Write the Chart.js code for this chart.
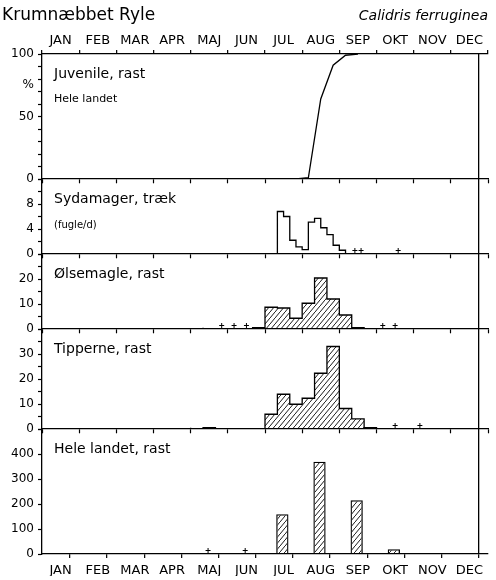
<!DOCTYPE html>
<html lang="da">
<head>
  <meta charset="UTF-8" />
  <title>Krumnæbbet Ryle</title>
  <script src="https://cdn.jsdelivr.net/npm/chart.js"></script>
  <style>
    html, body { margin: 0; padding: 0; background: #fff; }
    canvas { display: block; }
  </style>
</head>
<body>
  <canvas id="chart" width="496" height="580"></canvas>

  <script>
    const months = ['JAN', 'FEB', 'MAR', 'APR', 'MAJ', 'JUN', 'JUL', 'AUG', 'SEP', 'OKT', 'NOV', 'DEC'];

    // Juvenile, rast (% juv., hele landet) - dekade nr. 0 = 1.-10. jan
    const juvDekade = [20, 21, 22, 23, 24, 25];
    const juvPct = [0, 1, 64, 91, 99, 100];

    // Sydamager, træk (fugle/d) pr. pentade, første = 11.-15. jul (nr. 38)
    const sydStart = 38;
    const sydFugle = [1.4, 6.8, 6.0, 2.2, 1.15, 0.7, 5.1, 5.7, 4.2, 3.1, 1.4, 0.6];
    const sydPlus = [50, 51, 57];

    // Ølsemagle, rast pr. dekade, første = 11.-20. maj (nr. 13)
    const olsStart = 13;
    const olsRast = [0.5, 0, 0, 0, 0, 0.5, 8.7, 8.4, 4.3, 10.3, 20.4, 12.0, 5.6, 0.5];
    const olsPlus = [14, 15, 16, 27, 28];

    // Tipperne, rast pr. dekade, første = 1.-10. maj (nr. 12)
    const tipStart = 12;
    const tipRast = [0.5, 0, 0.5, 0, 0, 0, 0, 5.9, 13.9, 9.9, 12.3, 22.3, 33, 8.2, 4.05, 0.5];
    const tipPlus = [28, 30];

    // Hele landet, rast (månedstællinger midt i måneden)
    const hlMaaned = [6, 7, 8, 9];
    const hlRast = [159, 369, 215, 19];
    const hlPlus = [4, 5];
    const hlDag = 14;

    // tal på y-akserne
    const juvTicks = [0, 50, 100];
    const sydTicks = [0, 4, 8];
    const olsTicks = [0, 10, 20];
    const tipTicks = [0, 10, 20, 30];
    const hlTicks = [0, 100, 200, 300, 400];

    const panelTitles = ['Juvenile, rast', 'Sydamager, træk', 'Ølsemagle, rast', 'Tipperne, rast', 'Hele landet, rast'];

    Chart.defaults.font.family = '"DejaVu Sans", sans-serif';
    Chart.defaults.font.size = 12;
    Chart.defaults.color = '#000';

    const canvas = document.getElementById('chart');
    const ctx = canvas.getContext('2d');

    // skravering
    const tile = document.createElement('canvas');
    tile.width = 5; tile.height = 6;
    const tg = tile.getContext('2d');
    tg.strokeStyle = '#000';
    tg.lineWidth = 0.9;
    tg.beginPath();
    tg.moveTo(-1, 6 + 6 / 5);
    tg.lineTo(6, -6 / 5);
    tg.stroke();
    const hatch = ctx.createPattern(tile, 'repeat');

    // "+" lidt over nullinjen
    const plus = document.createElement('canvas');
    plus.width = 7; plus.height = 14;
    const pg = plus.getContext('2d');
    pg.fillStyle = '#000';
    pg.fillRect(1, 3, 5, 1);
    pg.fillRect(3, 1, 1, 5);

    function stepPoints(start, vals, per) {
      const pts = [{ x: start / per, y: 0 }];
      vals.forEach((v, i) => pts.push({ x: (start + i) / per, y: v }));
      pts.push({ x: (start + vals.length) / per, y: 0 });
      return pts;
    }
    const plusPoints = (idx, per, off) => idx.map(i => ({ x: (i + off) / per, y: 0 }));

    function plusSet(data, yId) {
      return { type: 'line', yAxisID: yId, data, showLine: false, pointStyle: plus, pointRadius: 3 };
    }

    const clear = 'rgba(0,0,0,0)';
    const tv = c => (c && c.tick ? c.tick.value : NaN);

    function yAxis(max, step, minor, labels, weight, stackWeight, extra) {
      return {
        type: 'linear', position: 'left', stack: 'panel', stackWeight, weight,
        min: 0, max, offset: false,
        afterFit: s => { s.width = 42; },
        border: { color: '#000', width: 1.3 },
        grid: {
          drawOnChartArea: false, tickLength: 4, tickWidth: 1.2,
          tickColor: c => tv(c) % minor === 0 ? '#000' : clear
        },
        ticks: {
          stepSize: step, autoSkip: false, padding: 4,
          callback: v => labels.includes(v) ? String(v) : ((extra && extra[v]) || '')
        }
      };
    }

    function monthAxis(position, pad, h) {
      return {
        type: 'linear', position, min: 0, max: 12, offset: false,
        afterFit: s => { s.height = h; },
        border: { color: '#000', width: 1.3 },
        grid: {
          drawOnChartArea: position === 'bottom', tickLength: 4, tickWidth: 1.2,
          color: c => tv(c) === 12 ? '#000' : clear,
          lineWidth: 1.3,
          tickColor: c => Number.isInteger(tv(c)) ? '#000' : clear
        },
        ticks: {
          stepSize: 0.5, autoSkip: false, maxRotation: 0, padding: pad, font: { size: 13 },
          callback: v => Number.isInteger(v) ? '' : months[Math.floor(v)]
        }
      };
    }

    function sepAxis(yId) {
      return {
        type: 'linear', axis: 'x', position: { [yId]: 0 }, min: 0, max: 12,
        border: { color: '#000', width: 1.3 },
        grid: { drawOnChartArea: false, tickLength: 4, tickWidth: 1.2, tickColor: '#000' },
        ticks: { display: false, stepSize: 1 }
      };
    }

    const panelText = {
      id: 'panelText',
      afterDraw(chart) {
        const c = chart.ctx;
        const area = chart.chartArea;
        c.save();
        c.fillStyle = '#000';
        c.textBaseline = 'alphabetic';
        c.textAlign = 'left';
        c.font = '17px "DejaVu Sans"';
        c.fillText('Krumnæbbet Ryle', 2, 20);
        c.textAlign = 'right';
        c.font = 'italic 14px "DejaVu Sans"';
        c.fillText('Calidris ferruginea', area.right, 20);
        c.textAlign = 'left';
        ['y1', 'y2', 'y3', 'y4', 'y5'].forEach((id, i) => {
          c.font = '14px "DejaVu Sans"';
          c.fillText(panelTitles[i], area.left + 12, chart.scales[id].top + 24);
        });
        c.font = '11px "DejaVu Sans"';
        c.fillText('Hele landet', area.left + 12, chart.scales.y1.top + 48);
        c.font = '10px "DejaVu Sans"';
        c.fillText('(fugle/d)', area.left + 12, chart.scales.y2.top + 49);
        c.restore();
      }
    };

    new Chart(canvas, {
      type: 'line',
      data: {
        datasets: [
          {
            yAxisID: 'y1',
            data: juvDekade.map((d, i) => ({ x: (d + 0.5) / 3, y: juvPct[i] })),
            borderColor: '#000', borderWidth: 1.3, pointRadius: 0, fill: false
          },
          {
            yAxisID: 'y2',
            data: stepPoints(sydStart, sydFugle, 6),
            stepped: 'after', borderColor: '#000', borderWidth: 1.3, pointRadius: 0, fill: false
          },
          plusSet(plusPoints(sydPlus, 6, 0.5), 'y2'),
          {
            yAxisID: 'y3',
            data: stepPoints(olsStart, olsRast, 3),
            stepped: 'after', borderColor: '#000', borderWidth: 1.3, pointRadius: 0,
            fill: 'origin', backgroundColor: hatch
          },
          plusSet(plusPoints(olsPlus, 3, 0.5), 'y3'),
          {
            yAxisID: 'y4',
            data: stepPoints(tipStart, tipRast, 3),
            stepped: 'after', borderColor: '#000', borderWidth: 1.3, pointRadius: 0,
            fill: 'origin', backgroundColor: hatch
          },
          plusSet(plusPoints(tipPlus, 3, 0.5), 'y4'),
          {
            // søjlebredden regnes ud fra halvmåneds-ticks på x-aksen
            type: 'bar', yAxisID: 'y5',
            data: hlMaaned.map((m, i) => ({ x: m + hlDag / 30, y: hlRast[i] })),
            backgroundColor: hatch, borderColor: '#000', borderWidth: 1.3,
            barPercentage: 0.66, categoryPercentage: 1
          },
          plusSet(plusPoints(hlPlus, 1, hlDag / 30), 'y5')
        ]
      },
      options: {
        responsive: false,
        animation: false,
        layout: { padding: { top: 30, right: 8, bottom: 4, left: 0 } },
        plugins: { legend: { display: false }, tooltip: { enabled: false } },
        scales: {
          x: monthAxis('bottom', 5, 22),
          xTop: monthAxis('top', 2, 24),
          xs1: sepAxis('y1'),
          xs2: sepAxis('y2'),
          xs3: sepAxis('y3'),
          xs4: sepAxis('y4'),
          y1: yAxis(100, 5, 10, juvTicks, 5, 5, { 75: '%' }),
          y2: yAxis(12, 2, 2, sydTicks, 4, 3),
          y3: yAxis(30, 5, 5, olsTicks, 3, 3),
          y4: yAxis(40, 5, 5, tipTicks, 2, 4),
          y5: yAxis(500, 100, 100, hlTicks, 1, 5)
        }
      },
      plugins: [panelText]
    });
  </script>
</body>
</html>
